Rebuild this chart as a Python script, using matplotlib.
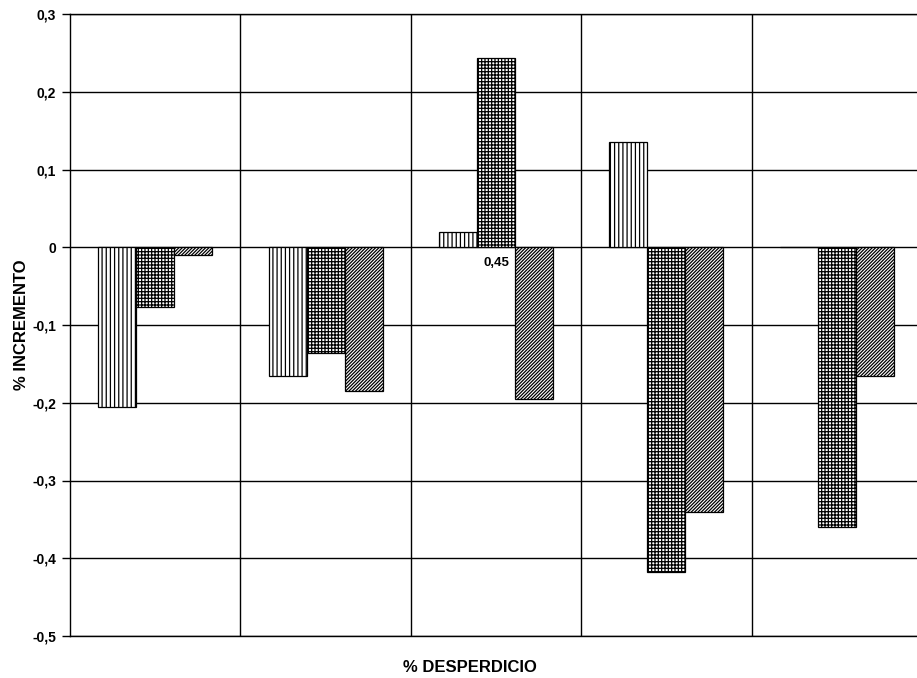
import numpy as np
import matplotlib
matplotlib.use('Agg')
import matplotlib.pyplot as plt

plt.rcParams['font.family'] = ['Liberation Sans', 'DejaVu Sans']
plt.rcParams['hatch.linewidth'] = 0.9

# data
categories = ['0,15', '0,3', '0,45', '0,6', '0,75']
serie_1 = [-0.205, -0.166, 0.019, 0.136, 0.0]
serie_2 = [-0.077, -0.136, 0.243, -0.418, -0.360]
serie_3 = [-0.010, -0.185, -0.195, -0.340, -0.166]
yticks = [0.3, 0.2, 0.1, 0.0, -0.1, -0.2, -0.3, -0.4, -0.5]
ytick_labels = ['0,3', '0,2', '0,1', '0', '-0,1', '-0,2', '-0,3', '-0,4', '-0,5']

fig = plt.figure(figsize=(9.17, 6.78), dpi=100)
ax = fig.add_axes([70 / 917, 42 / 678, 852 / 917, 622 / 678])

x = np.arange(len(categories))
w = 0.223
hatches = ['||||', '+++++', '//////////']
for k, (vals, h) in enumerate(zip([serie_1, serie_2, serie_3], hatches)):
    ax.bar(x + (k - 1) * w, vals, width=w, color='white', edgecolor='black',
           hatch=h, linewidth=0.9, zorder=3)

# category labels sit on the zero line, behind the bars
for xi, lab in zip(x, categories):
    ax.text(xi, -0.012, lab, ha='center', va='top', fontsize=9.5,
            fontweight='bold', zorder=2)

ax.set_xlim(-0.5, len(categories) - 0.5)
ax.set_ylim(-0.5, 0.3)
ax.set_yticks(yticks)
ax.set_yticklabels(ytick_labels, fontsize=10, fontweight='bold')
ax.set_xticks([])
for yv in yticks:
    ax.axhline(yv, color='black', linewidth=1.0, zorder=1)
for xb in np.arange(0.5, len(categories) - 0.5, 1):
    ax.axvline(xb, color='black', linewidth=1.0, zorder=1)
ax.tick_params(axis='y', length=6, width=1.0, pad=4)
for s in ax.spines.values():
    s.set_linewidth(1.0)

ax.set_ylabel('% INCREMENTO', fontsize=12, fontweight='bold', labelpad=2)
fig.text(470 / 917, 1 - 667 / 678, '% DESPERDICIO', ha='center', va='center',
         fontsize=12, fontweight='bold')

fig.savefig('out.png', dpi=100)
